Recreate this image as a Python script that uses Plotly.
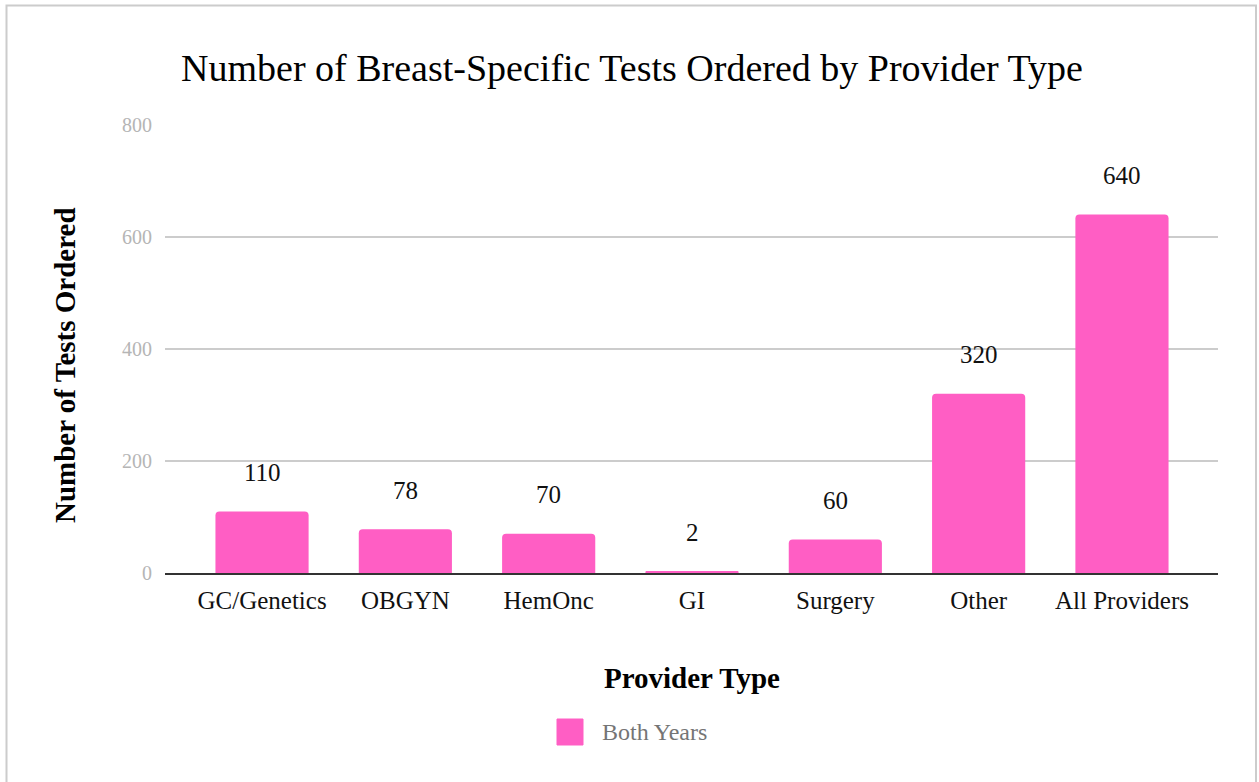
import plotly.graph_objects as go

categories = ["GC/Genetics", "OBGYN", "HemOnc", "GI", "Surgery", "Other", "All Providers"]
values = [110, 78, 70, 2, 60, 320, 640]
y_ticks = [0, 200, 400, 600, 800]
series_name = "Both Years"

PINK = "#ff5ec4"
FONT = "Liberation Serif, Times New Roman, serif"

fig = go.Figure()
fig.add_trace(go.Bar(
    x=categories, y=values, name=series_name,
    marker=dict(color=PINK, line=dict(width=0)),
    showlegend=False, hoverinfo="x+y",
))

annotations = []
for c, v in zip(categories, values):
    annotations.append(dict(
        x=c, y=v, xref="x", yref="y", text=str(v), showarrow=False,
        yshift=39, yanchor="middle", font=dict(family=FONT, size=25, color="#111111"),
    ))

# axis titles
annotations.append(dict(
    x=(692 - 165) / 1053, y=(573 - 678) / 448, xref="paper", yref="paper",
    text="<b>Provider Type</b>",
    showarrow=False, xanchor="center", yanchor="middle",
    font=dict(family=FONT, size=29, color="#000000"),
))
annotations.append(dict(
    x=(65 - 165) / 1053, y=(573 - 365) / 448, xref="paper", yref="paper",
    text="<b>Number of Tests Ordered</b>",
    showarrow=False, textangle=-90, xanchor="center", yanchor="middle",
    font=dict(family=FONT, size=29, color="#000000"),
))
# legend text
annotations.append(dict(
    x=(600 - 165) / 1053, y=(573 - 732) / 448, xref="paper", yref="paper", text=series_name,
    showarrow=False, xanchor="left", yanchor="middle",
    font=dict(family=FONT, size=24, color="#757575"),
))

shapes = [
    # outer border
    dict(type="rect", xref="paper", yref="paper",
         x0=(6.5 - 165) / 1053, x1=(1256 - 165) / 1053,
         y0=(573 - 800) / 448, y1=(573 - 5.5) / 448,
         line=dict(color="#cccccc", width=2), fillcolor="rgba(0,0,0,0)", layer="below"),
    # legend swatch
    dict(type="rect", xref="paper", yref="paper", x0=(557 - 165) / 1053, x1=(583 - 165) / 1053,
         y0=(573 - 745) / 448, y1=(573 - 719) / 448,
         line=dict(color=PINK, width=1), fillcolor=PINK),
]

fig.update_layout(
    width=1259, height=782,
    margin=dict(l=165, r=41, t=125, b=209, autoexpand=False),
    paper_bgcolor="white", plot_bgcolor="white",
    title=dict(text="Number of Breast-Specific Tests Ordered by Provider Type",
               x=632 / 1259, xanchor="center", y=1 - 68 / 782, yanchor="middle",
               font=dict(family=FONT, size=38, color="#000000")),
    bargap=0.35,
    barcornerradius=4,
    showlegend=False,
    annotations=annotations,
    shapes=shapes,
    font=dict(family=FONT),
)
fig.update_xaxes(
    type="category", range=[-0.677, 6.67],
    showgrid=False, showline=True, linecolor="#333333", linewidth=2,
    ticks="", tickfont=dict(family=FONT, size=25, color="#111111"),
    ticklabelstandoff=4,
)
fig.update_yaxes(
    range=[0, 800], tickvals=y_ticks, ticktext=[str(t) for t in y_ticks],
    showgrid=True, gridcolor="#cccccc", gridwidth=1.5,
    zeroline=False, showline=False,
    tickfont=dict(family=FONT, size=20, color="#b5b5b5"),
    ticklabelstandoff=12,
)

fig.write_html("out.html", config={"displayModeBar": False},
               post_script="document.body.style.margin='0';document.body.style.overflow='hidden';")
